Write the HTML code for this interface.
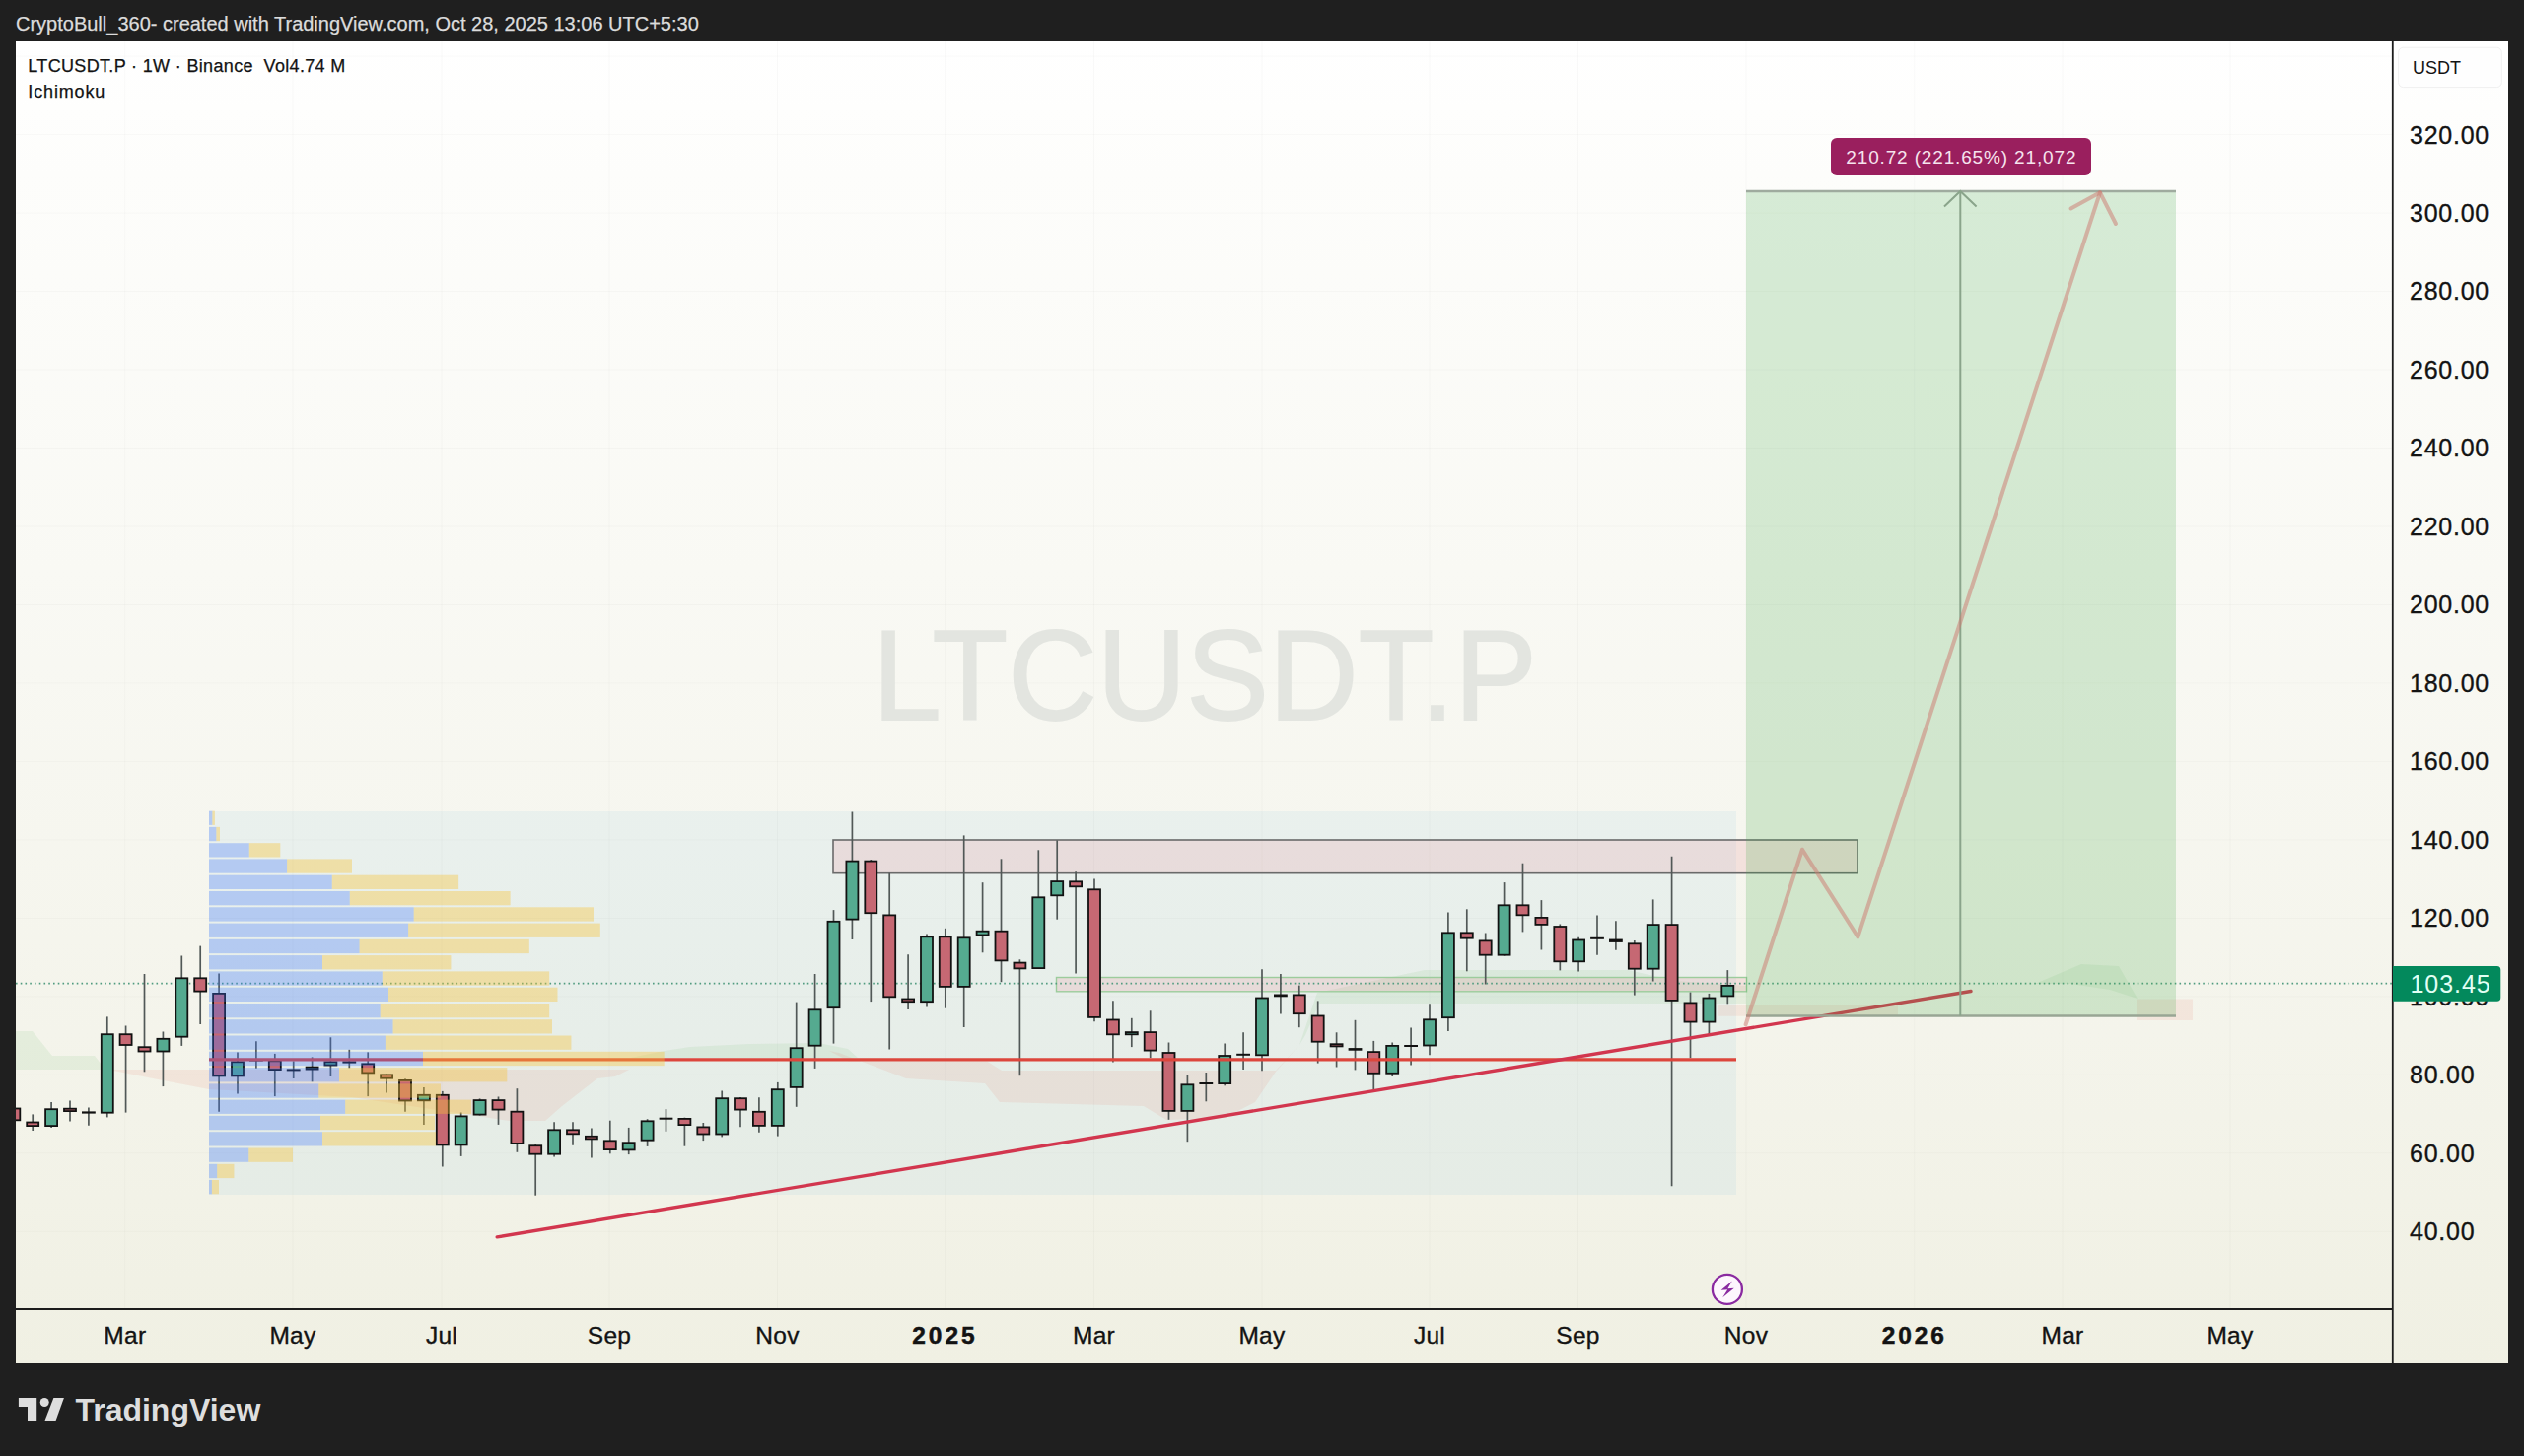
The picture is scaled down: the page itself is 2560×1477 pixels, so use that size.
<!DOCTYPE html>
<html><head><meta charset="utf-8"><style>
html,body{margin:0;padding:0;}
body{width:2560px;height:1477px;background:#1f1f1f;overflow:hidden;position:relative;font-family:"Liberation Sans",sans-serif;}
.hdr{position:absolute;left:16px;top:13.2px;-webkit-text-stroke:0.25px #dcdcdc;font-size:20px;color:#dcdcdc;white-space:nowrap;}
.panel{position:absolute;left:16px;top:42px;width:2528px;height:1341px;background:linear-gradient(to bottom,#ffffff 0%,#fdfdfb 10%,#f9f9f4 40%,#f4f4eb 75%,#f0f0e3 100%);}
svg{position:absolute;left:0;top:0;}
.pl{font-size:25px;fill:#131313;letter-spacing:0.75px;stroke:#131313;stroke-width:0.35px;}
.tl{font-size:24.5px;fill:#131313;letter-spacing:0.3px;stroke:#131313;stroke-width:0.35px;}
.tlb{font-size:24.5px;fill:#131313;font-weight:bold;letter-spacing:2.9px;stroke:#131313;stroke-width:0.5px;}
</style></head><body>
<div class="hdr">CryptoBull_360- created with TradingView.com, Oct 28, 2025 13:06 UTC+5:30</div>
<div class="panel"></div>
<svg width="2560" height="1477" viewBox="0 0 2560 1477" font-family="Liberation Sans, sans-serif">
<defs><clipPath id="pane"><rect x="16" y="42" width="2410" height="1285"/></clipPath></defs>
<line x1="16" y1="136.6" x2="2426" y2="136.6" stroke="rgba(0,0,0,0.022)" stroke-width="1"/>
<line x1="16" y1="216.1" x2="2426" y2="216.1" stroke="rgba(0,0,0,0.022)" stroke-width="1"/>
<line x1="16" y1="295.5" x2="2426" y2="295.5" stroke="rgba(0,0,0,0.022)" stroke-width="1"/>
<line x1="16" y1="375.0" x2="2426" y2="375.0" stroke="rgba(0,0,0,0.022)" stroke-width="1"/>
<line x1="16" y1="454.5" x2="2426" y2="454.5" stroke="rgba(0,0,0,0.022)" stroke-width="1"/>
<line x1="16" y1="534.0" x2="2426" y2="534.0" stroke="rgba(0,0,0,0.022)" stroke-width="1"/>
<line x1="16" y1="613.5" x2="2426" y2="613.5" stroke="rgba(0,0,0,0.022)" stroke-width="1"/>
<line x1="16" y1="692.9" x2="2426" y2="692.9" stroke="rgba(0,0,0,0.022)" stroke-width="1"/>
<line x1="16" y1="772.4" x2="2426" y2="772.4" stroke="rgba(0,0,0,0.022)" stroke-width="1"/>
<line x1="16" y1="851.9" x2="2426" y2="851.9" stroke="rgba(0,0,0,0.022)" stroke-width="1"/>
<line x1="16" y1="931.4" x2="2426" y2="931.4" stroke="rgba(0,0,0,0.022)" stroke-width="1"/>
<line x1="16" y1="1010.9" x2="2426" y2="1010.9" stroke="rgba(0,0,0,0.022)" stroke-width="1"/>
<line x1="16" y1="1090.3" x2="2426" y2="1090.3" stroke="rgba(0,0,0,0.022)" stroke-width="1"/>
<line x1="16" y1="1169.8" x2="2426" y2="1169.8" stroke="rgba(0,0,0,0.022)" stroke-width="1"/>
<line x1="16" y1="1249.3" x2="2426" y2="1249.3" stroke="rgba(0,0,0,0.022)" stroke-width="1"/>
<line x1="16" y1="57.1" x2="2426" y2="57.1" stroke="rgba(0,0,0,0.022)" stroke-width="1"/>
<line x1="126.8" y1="42" x2="126.8" y2="1327" stroke="rgba(0,0,0,0.022)" stroke-width="1"/>
<line x1="297.0" y1="42" x2="297.0" y2="1327" stroke="rgba(0,0,0,0.022)" stroke-width="1"/>
<line x1="448.0" y1="42" x2="448.0" y2="1327" stroke="rgba(0,0,0,0.022)" stroke-width="1"/>
<line x1="618.0" y1="42" x2="618.0" y2="1327" stroke="rgba(0,0,0,0.022)" stroke-width="1"/>
<line x1="788.5" y1="42" x2="788.5" y2="1327" stroke="rgba(0,0,0,0.022)" stroke-width="1"/>
<line x1="958.4" y1="42" x2="958.4" y2="1327" stroke="rgba(0,0,0,0.022)" stroke-width="1"/>
<line x1="1109.5" y1="42" x2="1109.5" y2="1327" stroke="rgba(0,0,0,0.022)" stroke-width="1"/>
<line x1="1280.0" y1="42" x2="1280.0" y2="1327" stroke="rgba(0,0,0,0.022)" stroke-width="1"/>
<line x1="1450.0" y1="42" x2="1450.0" y2="1327" stroke="rgba(0,0,0,0.022)" stroke-width="1"/>
<line x1="1600.5" y1="42" x2="1600.5" y2="1327" stroke="rgba(0,0,0,0.022)" stroke-width="1"/>
<line x1="1771.0" y1="42" x2="1771.0" y2="1327" stroke="rgba(0,0,0,0.022)" stroke-width="1"/>
<line x1="1941.8" y1="42" x2="1941.8" y2="1327" stroke="rgba(0,0,0,0.022)" stroke-width="1"/>
<line x1="2092.0" y1="42" x2="2092.0" y2="1327" stroke="rgba(0,0,0,0.022)" stroke-width="1"/>
<line x1="2262.0" y1="42" x2="2262.0" y2="1327" stroke="rgba(0,0,0,0.022)" stroke-width="1"/>
<text x="885" y="730.4" font-size="129" fill="#e3e5e0" stroke="#e3e5e0" stroke-width="1.8" textLength="674" lengthAdjust="spacingAndGlyphs">LTCUSDT.P</text>
<g clip-path="url(#pane)">
<rect x="212" y="823" width="1549" height="389" fill="rgba(140,200,220,0.12)"/>
<polygon points="16,1046 33,1046 53,1071 96,1071 107,1085 16,1085" fill="rgba(120,190,120,0.13)"/>
<polygon points="110,1085 638,1085 624,1092 606,1094 570,1122 553,1137 517,1137 357,1113 250,1107 212,1105 150,1093" fill="rgba(230,120,110,0.12)"/>
<polygon points="640,1073 674,1066 700,1062 760,1059 830,1058 860,1064 870,1073" fill="rgba(120,190,120,0.13)"/>
<polygon points="841,1066 861,1076.5 1001,1076.5 1016,1086 1294,1086 1318,1060 1294,1087 1273,1118 1242,1134 1183,1136 1160,1122 1014,1118 999,1099 919,1094 851,1068" fill="rgba(230,120,110,0.12)"/>
<polygon points="1318,1060 1336,1007 1445,984 1651,984 1700,995 1771,1000 1771,1018 1338,1018 1324,1050" fill="rgba(120,190,120,0.13)"/>
<polygon points="2064,998 2111,978 2149,980 2168,1013 2140,1004 2100,998" fill="rgba(120,190,120,0.13)"/>
<polygon points="2167,1013.6 2224,1013.6 2224,1035 2167,1035" fill="rgba(230,120,110,0.12)"/>
<polygon points="1743,1019 1925,1019 1925,1030.7 1743,1030.7" fill="rgba(230,120,110,0.12)"/>
<rect x="845" y="852" width="1039" height="33.7" fill="rgba(230,120,130,0.16)" stroke="#6a6a6a" stroke-width="1.6"/>
<rect x="1071.5" y="991.5" width="700" height="14.3" fill="rgba(230,120,130,0.16)" stroke="#9ccc9c" stroke-width="1.4"/>
<line x1="16" y1="997.6" x2="2426" y2="997.6" stroke="#519c80" stroke-width="1.6" stroke-dasharray="1.6 3.15"/>
<line x1="14.3" y1="1118.0" x2="14.3" y2="1142.0" stroke="#515857" stroke-width="1.7"/>
<line x1="33.2" y1="1130.4" x2="33.2" y2="1147.0" stroke="#515857" stroke-width="1.7"/>
<line x1="52.1" y1="1118.0" x2="52.1" y2="1144.0" stroke="#515857" stroke-width="1.7"/>
<line x1="71.0" y1="1116.5" x2="71.0" y2="1137.6" stroke="#515857" stroke-width="1.7"/>
<line x1="89.9" y1="1123.6" x2="89.9" y2="1141.7" stroke="#515857" stroke-width="1.7"/>
<line x1="108.8" y1="1031.4" x2="108.8" y2="1133.4" stroke="#515857" stroke-width="1.7"/>
<line x1="127.6" y1="1040.5" x2="127.6" y2="1128.6" stroke="#515857" stroke-width="1.7"/>
<line x1="146.5" y1="988.0" x2="146.5" y2="1087.3" stroke="#515857" stroke-width="1.7"/>
<line x1="165.4" y1="1046.5" x2="165.4" y2="1102.1" stroke="#515857" stroke-width="1.7"/>
<line x1="184.3" y1="969.5" x2="184.3" y2="1060.9" stroke="#515857" stroke-width="1.7"/>
<line x1="203.2" y1="959.6" x2="203.2" y2="1039.0" stroke="#515857" stroke-width="1.7"/>
<line x1="222.1" y1="987.6" x2="222.1" y2="1127.8" stroke="#515857" stroke-width="1.7"/>
<line x1="241.0" y1="1067.4" x2="241.0" y2="1109.4" stroke="#515857" stroke-width="1.7"/>
<line x1="259.9" y1="1056.2" x2="259.9" y2="1083.7" stroke="#515857" stroke-width="1.7"/>
<line x1="278.8" y1="1068.9" x2="278.8" y2="1112.1" stroke="#515857" stroke-width="1.7"/>
<line x1="297.7" y1="1076.4" x2="297.7" y2="1094.0" stroke="#515857" stroke-width="1.7"/>
<line x1="316.6" y1="1072.4" x2="316.6" y2="1097.3" stroke="#515857" stroke-width="1.7"/>
<line x1="335.4" y1="1052.3" x2="335.4" y2="1092.0" stroke="#515857" stroke-width="1.7"/>
<line x1="354.3" y1="1064.8" x2="354.3" y2="1083.4" stroke="#515857" stroke-width="1.7"/>
<line x1="373.2" y1="1067.4" x2="373.2" y2="1112.1" stroke="#515857" stroke-width="1.7"/>
<line x1="392.1" y1="1089.4" x2="392.1" y2="1108.6" stroke="#515857" stroke-width="1.7"/>
<line x1="411.0" y1="1094.3" x2="411.0" y2="1127.8" stroke="#515857" stroke-width="1.7"/>
<line x1="429.9" y1="1103.1" x2="429.9" y2="1140.9" stroke="#515857" stroke-width="1.7"/>
<line x1="448.8" y1="1106.9" x2="448.8" y2="1183.5" stroke="#515857" stroke-width="1.7"/>
<line x1="467.7" y1="1128.5" x2="467.7" y2="1172.9" stroke="#515857" stroke-width="1.7"/>
<line x1="486.6" y1="1114.4" x2="486.6" y2="1131.5" stroke="#515857" stroke-width="1.7"/>
<line x1="505.5" y1="1112.5" x2="505.5" y2="1140.9" stroke="#515857" stroke-width="1.7"/>
<line x1="524.4" y1="1104.2" x2="524.4" y2="1168.8" stroke="#515857" stroke-width="1.7"/>
<line x1="543.2" y1="1160.5" x2="543.2" y2="1212.7" stroke="#515857" stroke-width="1.7"/>
<line x1="562.1" y1="1138.3" x2="562.1" y2="1173.4" stroke="#515857" stroke-width="1.7"/>
<line x1="581.0" y1="1138.3" x2="581.0" y2="1161.7" stroke="#515857" stroke-width="1.7"/>
<line x1="599.9" y1="1144.4" x2="599.9" y2="1174.6" stroke="#515857" stroke-width="1.7"/>
<line x1="618.8" y1="1136.7" x2="618.8" y2="1170.3" stroke="#515857" stroke-width="1.7"/>
<line x1="637.7" y1="1143.9" x2="637.7" y2="1171.1" stroke="#515857" stroke-width="1.7"/>
<line x1="656.6" y1="1135.2" x2="656.6" y2="1162.9" stroke="#515857" stroke-width="1.7"/>
<line x1="675.5" y1="1125.1" x2="675.5" y2="1147.8" stroke="#515857" stroke-width="1.7"/>
<line x1="694.4" y1="1133.7" x2="694.4" y2="1162.7" stroke="#515857" stroke-width="1.7"/>
<line x1="713.3" y1="1139.0" x2="713.3" y2="1157.1" stroke="#515857" stroke-width="1.7"/>
<line x1="732.2" y1="1106.5" x2="732.2" y2="1153.4" stroke="#515857" stroke-width="1.7"/>
<line x1="751.0" y1="1113.0" x2="751.0" y2="1143.2" stroke="#515857" stroke-width="1.7"/>
<line x1="769.9" y1="1113.3" x2="769.9" y2="1148.8" stroke="#515857" stroke-width="1.7"/>
<line x1="788.8" y1="1097.9" x2="788.8" y2="1152.6" stroke="#515857" stroke-width="1.7"/>
<line x1="807.7" y1="1016.6" x2="807.7" y2="1122.8" stroke="#515857" stroke-width="1.7"/>
<line x1="826.6" y1="988.0" x2="826.6" y2="1083.9" stroke="#515857" stroke-width="1.7"/>
<line x1="845.5" y1="923.1" x2="845.5" y2="1058.6" stroke="#515857" stroke-width="1.7"/>
<line x1="864.4" y1="823.5" x2="864.4" y2="953.0" stroke="#515857" stroke-width="1.7"/>
<line x1="883.3" y1="872.0" x2="883.3" y2="1016.1" stroke="#515857" stroke-width="1.7"/>
<line x1="902.2" y1="885.7" x2="902.2" y2="1064.5" stroke="#515857" stroke-width="1.7"/>
<line x1="921.1" y1="968.3" x2="921.1" y2="1024.1" stroke="#515857" stroke-width="1.7"/>
<line x1="940.0" y1="947.4" x2="940.0" y2="1021.5" stroke="#515857" stroke-width="1.7"/>
<line x1="958.8" y1="941.8" x2="958.8" y2="1022.7" stroke="#515857" stroke-width="1.7"/>
<line x1="977.7" y1="847.4" x2="977.7" y2="1042.0" stroke="#515857" stroke-width="1.7"/>
<line x1="996.6" y1="895.2" x2="996.6" y2="966.3" stroke="#515857" stroke-width="1.7"/>
<line x1="1015.5" y1="871.3" x2="1015.5" y2="996.2" stroke="#515857" stroke-width="1.7"/>
<line x1="1034.4" y1="973.3" x2="1034.4" y2="1091.2" stroke="#515857" stroke-width="1.7"/>
<line x1="1053.3" y1="862.3" x2="1053.3" y2="983.0" stroke="#515857" stroke-width="1.7"/>
<line x1="1072.2" y1="852.4" x2="1072.2" y2="932.7" stroke="#515857" stroke-width="1.7"/>
<line x1="1091.1" y1="884.3" x2="1091.1" y2="987.4" stroke="#515857" stroke-width="1.7"/>
<line x1="1110.0" y1="891.4" x2="1110.0" y2="1036.2" stroke="#515857" stroke-width="1.7"/>
<line x1="1128.9" y1="1015.3" x2="1128.9" y2="1077.4" stroke="#515857" stroke-width="1.7"/>
<line x1="1147.8" y1="1032.8" x2="1147.8" y2="1062.1" stroke="#515857" stroke-width="1.7"/>
<line x1="1166.7" y1="1025.3" x2="1166.7" y2="1073.1" stroke="#515857" stroke-width="1.7"/>
<line x1="1185.5" y1="1057.5" x2="1185.5" y2="1135.8" stroke="#515857" stroke-width="1.7"/>
<line x1="1204.4" y1="1091.0" x2="1204.4" y2="1158.2" stroke="#515857" stroke-width="1.7"/>
<line x1="1223.3" y1="1088.0" x2="1223.3" y2="1117.3" stroke="#515857" stroke-width="1.7"/>
<line x1="1242.2" y1="1058.5" x2="1242.2" y2="1101.3" stroke="#515857" stroke-width="1.7"/>
<line x1="1261.1" y1="1047.3" x2="1261.1" y2="1084.9" stroke="#515857" stroke-width="1.7"/>
<line x1="1280.0" y1="983.3" x2="1280.0" y2="1086.3" stroke="#515857" stroke-width="1.7"/>
<line x1="1298.9" y1="987.9" x2="1298.9" y2="1028.4" stroke="#515857" stroke-width="1.7"/>
<line x1="1317.8" y1="999.6" x2="1317.8" y2="1042.2" stroke="#515857" stroke-width="1.7"/>
<line x1="1336.7" y1="1015.4" x2="1336.7" y2="1078.6" stroke="#515857" stroke-width="1.7"/>
<line x1="1355.6" y1="1047.3" x2="1355.6" y2="1082.5" stroke="#515857" stroke-width="1.7"/>
<line x1="1374.5" y1="1034.8" x2="1374.5" y2="1085.4" stroke="#515857" stroke-width="1.7"/>
<line x1="1393.3" y1="1055.9" x2="1393.3" y2="1105.2" stroke="#515857" stroke-width="1.7"/>
<line x1="1412.2" y1="1057.5" x2="1412.2" y2="1092.0" stroke="#515857" stroke-width="1.7"/>
<line x1="1431.1" y1="1042.5" x2="1431.1" y2="1080.6" stroke="#515857" stroke-width="1.7"/>
<line x1="1450.0" y1="1018.2" x2="1450.0" y2="1070.2" stroke="#515857" stroke-width="1.7"/>
<line x1="1468.9" y1="925.6" x2="1468.9" y2="1045.9" stroke="#515857" stroke-width="1.7"/>
<line x1="1487.8" y1="922.3" x2="1487.8" y2="985.3" stroke="#515857" stroke-width="1.7"/>
<line x1="1506.7" y1="946.5" x2="1506.7" y2="998.5" stroke="#515857" stroke-width="1.7"/>
<line x1="1525.6" y1="895.1" x2="1525.6" y2="969.6" stroke="#515857" stroke-width="1.7"/>
<line x1="1544.5" y1="875.7" x2="1544.5" y2="945.4" stroke="#515857" stroke-width="1.7"/>
<line x1="1563.4" y1="913.1" x2="1563.4" y2="963.5" stroke="#515857" stroke-width="1.7"/>
<line x1="1582.3" y1="937.5" x2="1582.3" y2="984.4" stroke="#515857" stroke-width="1.7"/>
<line x1="1601.1" y1="950.7" x2="1601.1" y2="985.6" stroke="#515857" stroke-width="1.7"/>
<line x1="1620.0" y1="928.4" x2="1620.0" y2="968.8" stroke="#515857" stroke-width="1.7"/>
<line x1="1638.9" y1="934.2" x2="1638.9" y2="963.8" stroke="#515857" stroke-width="1.7"/>
<line x1="1657.8" y1="954.0" x2="1657.8" y2="1009.6" stroke="#515857" stroke-width="1.7"/>
<line x1="1676.7" y1="912.4" x2="1676.7" y2="995.5" stroke="#515857" stroke-width="1.7"/>
<line x1="1695.6" y1="868.7" x2="1695.6" y2="1203.2" stroke="#515857" stroke-width="1.7"/>
<line x1="1714.5" y1="1006.6" x2="1714.5" y2="1073.2" stroke="#515857" stroke-width="1.7"/>
<line x1="1733.4" y1="1007.9" x2="1733.4" y2="1050.4" stroke="#515857" stroke-width="1.7"/>
<line x1="1752.3" y1="984.1" x2="1752.3" y2="1018.3" stroke="#515857" stroke-width="1.7"/>
<rect x="8.3" y="1124.5" width="12" height="11.8" fill="#c66873" stroke="#111" stroke-width="1.8"/>
<rect x="27.2" y="1138.5" width="12" height="3.6" fill="#c66873" stroke="#111" stroke-width="1.8"/>
<rect x="46.1" y="1125.2" width="12" height="16.9" fill="#55aa90" stroke="#111" stroke-width="1.8"/>
<rect x="65.0" y="1124.7" width="12" height="2.4" fill="#c66873" stroke="#111" stroke-width="1.8"/>
<rect x="83.9" y="1128.3" width="12" height="0.4" fill="#333" stroke="#111" stroke-width="1.8"/>
<rect x="102.8" y="1049.2" width="12" height="79.5" fill="#55aa90" stroke="#111" stroke-width="1.8"/>
<rect x="121.6" y="1049.2" width="12" height="10.8" fill="#c66873" stroke="#111" stroke-width="1.8"/>
<rect x="140.5" y="1062.2" width="12" height="4.3" fill="#c66873" stroke="#111" stroke-width="1.8"/>
<rect x="159.4" y="1053.8" width="12" height="12.7" fill="#55aa90" stroke="#111" stroke-width="1.8"/>
<rect x="178.3" y="992.3" width="12" height="59.4" fill="#55aa90" stroke="#111" stroke-width="1.8"/>
<rect x="197.2" y="992.3" width="12" height="13.3" fill="#c66873" stroke="#111" stroke-width="1.8"/>
<rect x="216.1" y="1007.9" width="12" height="83.5" fill="#c66873" stroke="#111" stroke-width="1.8"/>
<rect x="235.0" y="1077.3" width="12" height="14.1" fill="#55aa90" stroke="#111" stroke-width="1.8"/>
<rect x="253.9" y="1075.4" width="12" height="0.2" fill="#333" stroke="#111" stroke-width="1.8"/>
<rect x="272.8" y="1076.3" width="12" height="8.8" fill="#c66873" stroke="#111" stroke-width="1.8"/>
<rect x="291.7" y="1085.3" width="12" height="0.2" fill="#333" stroke="#111" stroke-width="1.8"/>
<rect x="310.6" y="1082.6" width="12" height="2.0" fill="#55aa90" stroke="#111" stroke-width="1.8"/>
<rect x="329.4" y="1077.3" width="12" height="3.2" fill="#55aa90" stroke="#111" stroke-width="1.8"/>
<rect x="348.3" y="1077.3" width="12" height="0.4" fill="#c66873" stroke="#111" stroke-width="1.8"/>
<rect x="367.2" y="1079.3" width="12" height="9.1" fill="#c66873" stroke="#111" stroke-width="1.8"/>
<rect x="386.1" y="1090.3" width="12" height="3.4" fill="#c66873" stroke="#111" stroke-width="1.8"/>
<rect x="405.0" y="1095.9" width="12" height="20.6" fill="#c66873" stroke="#111" stroke-width="1.8"/>
<rect x="423.9" y="1110.8" width="12" height="5.5" fill="#55aa90" stroke="#111" stroke-width="1.8"/>
<rect x="442.8" y="1110.8" width="12" height="50.6" fill="#c66873" stroke="#111" stroke-width="1.8"/>
<rect x="461.7" y="1132.4" width="12" height="29.0" fill="#55aa90" stroke="#111" stroke-width="1.8"/>
<rect x="480.6" y="1116.1" width="12" height="14.5" fill="#55aa90" stroke="#111" stroke-width="1.8"/>
<rect x="499.5" y="1116.1" width="12" height="9.5" fill="#c66873" stroke="#111" stroke-width="1.8"/>
<rect x="518.4" y="1127.7" width="12" height="32.2" fill="#c66873" stroke="#111" stroke-width="1.8"/>
<rect x="537.2" y="1162.2" width="12" height="8.5" fill="#c66873" stroke="#111" stroke-width="1.8"/>
<rect x="556.1" y="1146.3" width="12" height="24.4" fill="#55aa90" stroke="#111" stroke-width="1.8"/>
<rect x="575.0" y="1146.3" width="12" height="4.0" fill="#c66873" stroke="#111" stroke-width="1.8"/>
<rect x="593.9" y="1152.8" width="12" height="2.6" fill="#c66873" stroke="#111" stroke-width="1.8"/>
<rect x="612.8" y="1157.3" width="12" height="8.8" fill="#c66873" stroke="#111" stroke-width="1.8"/>
<rect x="631.7" y="1159.2" width="12" height="7.2" fill="#55aa90" stroke="#111" stroke-width="1.8"/>
<rect x="650.6" y="1137.3" width="12" height="19.4" fill="#55aa90" stroke="#111" stroke-width="1.8"/>
<rect x="669.5" y="1134.6" width="12" height="0.2" fill="#333" stroke="#111" stroke-width="1.8"/>
<rect x="688.4" y="1134.9" width="12" height="6.2" fill="#c66873" stroke="#111" stroke-width="1.8"/>
<rect x="707.3" y="1143.4" width="12" height="7.1" fill="#c66873" stroke="#111" stroke-width="1.8"/>
<rect x="726.2" y="1114.2" width="12" height="36.3" fill="#55aa90" stroke="#111" stroke-width="1.8"/>
<rect x="745.0" y="1114.2" width="12" height="11.4" fill="#c66873" stroke="#111" stroke-width="1.8"/>
<rect x="763.9" y="1127.8" width="12" height="14.1" fill="#c66873" stroke="#111" stroke-width="1.8"/>
<rect x="782.8" y="1105.2" width="12" height="36.7" fill="#55aa90" stroke="#111" stroke-width="1.8"/>
<rect x="801.7" y="1063.2" width="12" height="39.7" fill="#55aa90" stroke="#111" stroke-width="1.8"/>
<rect x="820.6" y="1024.3" width="12" height="36.4" fill="#55aa90" stroke="#111" stroke-width="1.8"/>
<rect x="839.5" y="934.8" width="12" height="87.4" fill="#55aa90" stroke="#111" stroke-width="1.8"/>
<rect x="858.4" y="873.6" width="12" height="59.0" fill="#55aa90" stroke="#111" stroke-width="1.8"/>
<rect x="877.3" y="873.6" width="12" height="52.6" fill="#c66873" stroke="#111" stroke-width="1.8"/>
<rect x="896.2" y="928.4" width="12" height="82.9" fill="#c66873" stroke="#111" stroke-width="1.8"/>
<rect x="915.1" y="1013.5" width="12" height="2.7" fill="#c66873" stroke="#111" stroke-width="1.8"/>
<rect x="934.0" y="950.3" width="12" height="65.9" fill="#55aa90" stroke="#111" stroke-width="1.8"/>
<rect x="952.8" y="950.3" width="12" height="50.6" fill="#c66873" stroke="#111" stroke-width="1.8"/>
<rect x="971.7" y="951.3" width="12" height="49.6" fill="#55aa90" stroke="#111" stroke-width="1.8"/>
<rect x="990.6" y="944.7" width="12" height="3.8" fill="#55aa90" stroke="#111" stroke-width="1.8"/>
<rect x="1009.5" y="944.7" width="12" height="29.7" fill="#c66873" stroke="#111" stroke-width="1.8"/>
<rect x="1028.4" y="976.6" width="12" height="5.8" fill="#c66873" stroke="#111" stroke-width="1.8"/>
<rect x="1047.3" y="910.3" width="12" height="71.8" fill="#55aa90" stroke="#111" stroke-width="1.8"/>
<rect x="1066.2" y="894.1" width="12" height="14.2" fill="#55aa90" stroke="#111" stroke-width="1.8"/>
<rect x="1085.1" y="894.3" width="12" height="5.0" fill="#c66873" stroke="#111" stroke-width="1.8"/>
<rect x="1104.0" y="902.3" width="12" height="129.6" fill="#c66873" stroke="#111" stroke-width="1.8"/>
<rect x="1122.9" y="1034.5" width="12" height="14.8" fill="#c66873" stroke="#111" stroke-width="1.8"/>
<rect x="1141.8" y="1047.1" width="12" height="2.2" fill="#55aa90" stroke="#111" stroke-width="1.8"/>
<rect x="1160.7" y="1047.1" width="12" height="18.5" fill="#c66873" stroke="#111" stroke-width="1.8"/>
<rect x="1179.5" y="1068.0" width="12" height="58.9" fill="#c66873" stroke="#111" stroke-width="1.8"/>
<rect x="1198.4" y="1100.3" width="12" height="26.6" fill="#55aa90" stroke="#111" stroke-width="1.8"/>
<rect x="1217.3" y="1098.9" width="12" height="0.2" fill="#333" stroke="#111" stroke-width="1.8"/>
<rect x="1236.2" y="1071.0" width="12" height="28.1" fill="#55aa90" stroke="#111" stroke-width="1.8"/>
<rect x="1255.1" y="1069.7" width="12" height="0.2" fill="#333" stroke="#111" stroke-width="1.8"/>
<rect x="1274.0" y="1012.5" width="12" height="57.8" fill="#55aa90" stroke="#111" stroke-width="1.8"/>
<rect x="1292.9" y="1009.4" width="12" height="1.0" fill="#333" stroke="#111" stroke-width="1.8"/>
<rect x="1311.8" y="1009.4" width="12" height="18.8" fill="#c66873" stroke="#111" stroke-width="1.8"/>
<rect x="1330.7" y="1030.5" width="12" height="26.2" fill="#c66873" stroke="#111" stroke-width="1.8"/>
<rect x="1349.6" y="1059.2" width="12" height="2.2" fill="#c66873" stroke="#111" stroke-width="1.8"/>
<rect x="1368.5" y="1064.0" width="12" height="0.8" fill="#333" stroke="#111" stroke-width="1.8"/>
<rect x="1387.3" y="1067.1" width="12" height="21.7" fill="#c66873" stroke="#111" stroke-width="1.8"/>
<rect x="1406.2" y="1060.9" width="12" height="27.9" fill="#55aa90" stroke="#111" stroke-width="1.8"/>
<rect x="1425.1" y="1060.9" width="12" height="0.2" fill="#333" stroke="#111" stroke-width="1.8"/>
<rect x="1444.0" y="1034.3" width="12" height="26.2" fill="#55aa90" stroke="#111" stroke-width="1.8"/>
<rect x="1462.9" y="946.3" width="12" height="85.9" fill="#55aa90" stroke="#111" stroke-width="1.8"/>
<rect x="1481.8" y="946.3" width="12" height="5.4" fill="#c66873" stroke="#111" stroke-width="1.8"/>
<rect x="1500.7" y="954.4" width="12" height="14.3" fill="#c66873" stroke="#111" stroke-width="1.8"/>
<rect x="1519.6" y="918.3" width="12" height="50.4" fill="#55aa90" stroke="#111" stroke-width="1.8"/>
<rect x="1538.5" y="918.3" width="12" height="10.0" fill="#c66873" stroke="#111" stroke-width="1.8"/>
<rect x="1557.4" y="930.9" width="12" height="7.0" fill="#c66873" stroke="#111" stroke-width="1.8"/>
<rect x="1576.3" y="940.0" width="12" height="35.3" fill="#c66873" stroke="#111" stroke-width="1.8"/>
<rect x="1595.1" y="953.5" width="12" height="21.8" fill="#55aa90" stroke="#111" stroke-width="1.8"/>
<rect x="1614.0" y="951.7" width="12" height="0.2" fill="#333" stroke="#111" stroke-width="1.8"/>
<rect x="1632.9" y="953.5" width="12" height="1.5" fill="#c66873" stroke="#111" stroke-width="1.8"/>
<rect x="1651.8" y="957.3" width="12" height="25.4" fill="#c66873" stroke="#111" stroke-width="1.8"/>
<rect x="1670.7" y="938.1" width="12" height="44.6" fill="#55aa90" stroke="#111" stroke-width="1.8"/>
<rect x="1689.6" y="938.1" width="12" height="76.8" fill="#c66873" stroke="#111" stroke-width="1.8"/>
<rect x="1708.5" y="1017.4" width="12" height="19.2" fill="#c66873" stroke="#111" stroke-width="1.8"/>
<rect x="1727.4" y="1012.5" width="12" height="24.1" fill="#55aa90" stroke="#111" stroke-width="1.8"/>
<rect x="1746.3" y="999.9" width="12" height="10.5" fill="#55aa90" stroke="#111" stroke-width="1.8"/>
<line x1="212" y1="1074.8" x2="1761" y2="1074.8" stroke="#dc463c" stroke-width="3.2"/>
<rect x="212.0" y="822.6" width="3.4" height="14.3" fill="rgba(60,115,255,0.30)"/>
<rect x="215.4" y="822.6" width="2.5" height="14.3" fill="rgba(248,195,55,0.38)"/>
<rect x="212.0" y="838.9" width="7.4" height="14.3" fill="rgba(60,115,255,0.30)"/>
<rect x="219.4" y="838.9" width="3.6" height="14.3" fill="rgba(248,195,55,0.38)"/>
<rect x="212.0" y="855.2" width="40.8" height="14.3" fill="rgba(60,115,255,0.30)"/>
<rect x="252.8" y="855.2" width="31.5" height="14.3" fill="rgba(248,195,55,0.38)"/>
<rect x="212.0" y="871.4" width="79.1" height="14.3" fill="rgba(60,115,255,0.30)"/>
<rect x="291.1" y="871.4" width="65.9" height="14.3" fill="rgba(248,195,55,0.38)"/>
<rect x="212.0" y="887.7" width="124.8" height="14.3" fill="rgba(60,115,255,0.30)"/>
<rect x="336.8" y="887.7" width="128.3" height="14.3" fill="rgba(248,195,55,0.38)"/>
<rect x="212.0" y="904.0" width="142.8" height="14.3" fill="rgba(60,115,255,0.30)"/>
<rect x="354.8" y="904.0" width="162.8" height="14.3" fill="rgba(248,195,55,0.38)"/>
<rect x="212.0" y="920.3" width="207.7" height="14.3" fill="rgba(60,115,255,0.30)"/>
<rect x="419.7" y="920.3" width="182.3" height="14.3" fill="rgba(248,195,55,0.38)"/>
<rect x="212.0" y="936.6" width="202.1" height="14.3" fill="rgba(60,115,255,0.30)"/>
<rect x="414.1" y="936.6" width="194.7" height="14.3" fill="rgba(248,195,55,0.38)"/>
<rect x="212.0" y="952.8" width="152.6" height="14.3" fill="rgba(60,115,255,0.30)"/>
<rect x="364.6" y="952.8" width="172.2" height="14.3" fill="rgba(248,195,55,0.38)"/>
<rect x="212.0" y="969.1" width="115.0" height="14.3" fill="rgba(60,115,255,0.30)"/>
<rect x="327.0" y="969.1" width="130.4" height="14.3" fill="rgba(248,195,55,0.38)"/>
<rect x="212.0" y="985.4" width="175.8" height="14.3" fill="rgba(60,115,255,0.30)"/>
<rect x="387.8" y="985.4" width="169.4" height="14.3" fill="rgba(248,195,55,0.38)"/>
<rect x="212.0" y="1001.7" width="182.0" height="14.3" fill="rgba(60,115,255,0.30)"/>
<rect x="394.0" y="1001.7" width="171.5" height="14.3" fill="rgba(248,195,55,0.38)"/>
<rect x="212.0" y="1018.0" width="173.7" height="14.3" fill="rgba(60,115,255,0.30)"/>
<rect x="385.7" y="1018.0" width="171.5" height="14.3" fill="rgba(248,195,55,0.38)"/>
<rect x="212.0" y="1034.2" width="186.6" height="14.3" fill="rgba(60,115,255,0.30)"/>
<rect x="398.6" y="1034.2" width="161.4" height="14.3" fill="rgba(248,195,55,0.38)"/>
<rect x="212.0" y="1050.5" width="178.9" height="14.3" fill="rgba(60,115,255,0.30)"/>
<rect x="390.9" y="1050.5" width="188.5" height="14.3" fill="rgba(248,195,55,0.38)"/>
<rect x="212.0" y="1066.8" width="217.0" height="14.3" fill="rgba(60,115,255,0.30)"/>
<rect x="429.0" y="1066.8" width="244.7" height="14.3" fill="rgba(248,195,55,0.38)"/>
<rect x="212.0" y="1083.1" width="132.0" height="14.3" fill="rgba(60,115,255,0.30)"/>
<rect x="344.0" y="1083.1" width="170.3" height="14.3" fill="rgba(248,195,55,0.38)"/>
<rect x="212.0" y="1099.4" width="111.3" height="14.3" fill="rgba(60,115,255,0.30)"/>
<rect x="323.3" y="1099.4" width="123.7" height="14.3" fill="rgba(248,195,55,0.38)"/>
<rect x="212.0" y="1115.6" width="138.2" height="14.3" fill="rgba(60,115,255,0.30)"/>
<rect x="350.2" y="1115.6" width="127.8" height="14.3" fill="rgba(248,195,55,0.38)"/>
<rect x="212.0" y="1131.9" width="113.0" height="14.3" fill="rgba(60,115,255,0.30)"/>
<rect x="325.0" y="1131.9" width="116.0" height="14.3" fill="rgba(248,195,55,0.38)"/>
<rect x="212.0" y="1148.2" width="115.0" height="14.3" fill="rgba(60,115,255,0.30)"/>
<rect x="327.0" y="1148.2" width="115.0" height="14.3" fill="rgba(248,195,55,0.38)"/>
<rect x="212.0" y="1164.5" width="40.3" height="14.3" fill="rgba(60,115,255,0.30)"/>
<rect x="252.3" y="1164.5" width="44.7" height="14.3" fill="rgba(248,195,55,0.38)"/>
<rect x="212.0" y="1180.8" width="8.2" height="14.3" fill="rgba(60,115,255,0.30)"/>
<rect x="220.2" y="1180.8" width="17.2" height="14.3" fill="rgba(248,195,55,0.38)"/>
<rect x="212.0" y="1197.0" width="2.9" height="14.3" fill="rgba(60,115,255,0.30)"/>
<rect x="214.9" y="1197.0" width="7.1" height="14.3" fill="rgba(248,195,55,0.38)"/>
<line x1="504.2" y1="1254.9" x2="1999" y2="1005.5" stroke="#d2364e" stroke-width="3.4" stroke-linecap="round"/>
<rect x="1771" y="194" width="436" height="837" fill="rgba(76,175,80,0.22)"/>
<line x1="1771" y1="194" x2="2207" y2="194" stroke="#9fab9f" stroke-width="2.6"/>
<line x1="1771" y1="1030.5" x2="2207" y2="1030.5" stroke="#98a694" stroke-width="2.6"/>
<line x1="1988.3" y1="194" x2="1988.3" y2="1030.5" stroke="#8aa48b" stroke-width="2"/>
<polyline points="1972,209.5 1988.3,194 2004.6,209.5" fill="none" stroke="#8aa48b" stroke-width="2"/>
<polyline points="1770.6,1039.3 1828,861.7 1884.4,950.5 2130,195.3" fill="none" stroke="rgba(205,125,115,0.52)" stroke-width="4" stroke-linejoin="round" stroke-linecap="round"/>
<polyline points="2100.5,211.5 2130,195.3 2146,227" fill="none" stroke="rgba(205,125,115,0.52)" stroke-width="4" stroke-linejoin="round" stroke-linecap="round"/>
<rect x="1857" y="140" width="264" height="38" rx="6" fill="#9a1f5e"/>
<text x="1872.3" y="166" font-size="19" fill="#f6e4ee" letter-spacing="0.85">210.72 (221.65%) 21,072</text>
<circle cx="1751.9" cy="1307.9" r="15" fill="#fdf6fd" stroke="#8a2aa0" stroke-width="2.3"/>
<path d="M1756.8,1299.6 L1745.6,1308.8 L1752.2,1308.2 L1747.2,1316.2 L1758.8,1306.8 L1752.4,1307.3 Z" fill="#8a2aa0"/>
</g>
<line x1="16" y1="1328" x2="2426" y2="1328" stroke="#1c1c1c" stroke-width="1.8"/>
<line x1="2426.8" y1="42" x2="2426.8" y2="1383" stroke="#1c1c1c" stroke-width="1.8"/>
<rect x="2432.6" y="48.2" width="104.7" height="40.4" rx="5" fill="#fefefe" stroke="#f0f0f0" stroke-width="1"/>
<text x="2447" y="75" font-size="18" fill="#131313">USDT</text>
<text x="2444" y="145.5" class="pl">320.00</text>
<text x="2444" y="225.0" class="pl">300.00</text>
<text x="2444" y="304.4" class="pl">280.00</text>
<text x="2444" y="383.9" class="pl">260.00</text>
<text x="2444" y="463.4" class="pl">240.00</text>
<text x="2444" y="542.9" class="pl">220.00</text>
<text x="2444" y="622.4" class="pl">200.00</text>
<text x="2444" y="701.8" class="pl">180.00</text>
<text x="2444" y="781.3" class="pl">160.00</text>
<text x="2444" y="860.8" class="pl">140.00</text>
<text x="2444" y="940.3" class="pl">120.00</text>
<text x="2444" y="1099.2" class="pl">80.00</text>
<text x="2444" y="1178.7" class="pl">60.00</text>
<text x="2444" y="1258.2" class="pl">40.00</text>
<text x="2444" y="1019.8" class="pl">100.00</text>
<text x="126.8" y="1363.4" class="tl" text-anchor="middle">Mar</text>
<text x="297.0" y="1363.4" class="tl" text-anchor="middle">May</text>
<text x="448.0" y="1363.4" class="tl" text-anchor="middle">Jul</text>
<text x="618.0" y="1363.4" class="tl" text-anchor="middle">Sep</text>
<text x="788.5" y="1363.4" class="tl" text-anchor="middle">Nov</text>
<text x="958.4" y="1363.4" class="tlb" text-anchor="middle">2025</text>
<text x="1109.5" y="1363.4" class="tl" text-anchor="middle">Mar</text>
<text x="1280.0" y="1363.4" class="tl" text-anchor="middle">May</text>
<text x="1450.0" y="1363.4" class="tl" text-anchor="middle">Jul</text>
<text x="1600.5" y="1363.4" class="tl" text-anchor="middle">Sep</text>
<text x="1771.0" y="1363.4" class="tl" text-anchor="middle">Nov</text>
<text x="1941.8" y="1363.4" class="tlb" text-anchor="middle">2026</text>
<text x="2092.0" y="1363.4" class="tl" text-anchor="middle">Mar</text>
<text x="2262.0" y="1363.4" class="tl" text-anchor="middle">May</text>
<path d="M2427,980 H2532.5 Q2536.3,980 2536.3,983.8 V1012 Q2536.3,1015.8 2532.5,1015.8 H2427 Z" fill="#03895c"/>
<text x="2444.5" y="1007" font-size="25" fill="#e2fff4" letter-spacing="0.95">103.45</text>
<text x="28.3" y="72.9" font-size="18" fill="#131313" stroke="#131313" stroke-width="0.25" textLength="322" lengthAdjust="spacing" xml:space="preserve">LTCUSDT.P · 1W · Binance  Vol4.74 M</text>
<text x="28.3" y="99.4" font-size="18" fill="#131313" stroke="#131313" stroke-width="0.25" textLength="78" lengthAdjust="spacing">Ichimoku</text>
<g fill="#dedede">
<polygon points="18.9,1418 37.2,1418 37.2,1441 28,1441 28,1426.9 18.9,1426.9"/>
<circle cx="45.2" cy="1422.5" r="4.5"/>
<polygon points="54.4,1418 64.9,1418 56.6,1441 45.5,1441"/>
<text x="76.4" y="1441" font-size="32" font-weight="bold">TradingView</text>
</g>
</svg>
</body></html>
